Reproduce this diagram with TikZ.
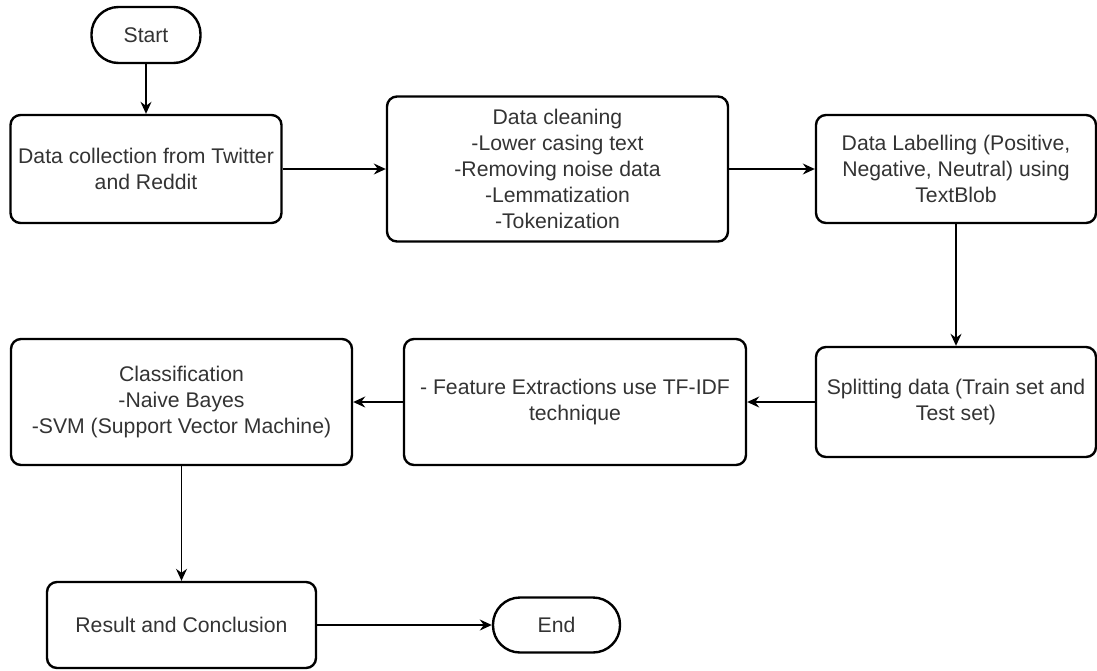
\documentclass[tikz,border=0pt]{standalone}
\usepackage{fontspec}
\setmainfont{Liberation Sans}
\usetikzlibrary{arrows.meta}
\begin{document}
\begin{tikzpicture}[x=1pt,y=-1pt,
  box/.style={draw, line width=2.4pt, rounded corners=10pt, align=center,
    font=\fontsize{21.2}{25.8}\selectfont, text=black!80, inner sep=0pt},
  term/.style={box, rounded corners=27pt},
  arr/.style={-{Stealth[length=12pt,width=11pt,inset=4pt]}, line width=1.3pt}]
\useasboundingbox (0,0) rectangle (1097,670);
\node[term, minimum width=109pt, minimum height=56pt] (start) at (146,35) {Start};
\node[box, minimum width=271pt, minimum height=108pt] (b1) at (146,169)
  {Data collection from Twitter\\and Reddit};
\node[box, minimum width=341pt, minimum height=145pt] (b2) at (557.5,169)
  {Data cleaning\\-Lower casing text\\-Removing noise data\\-Lemmatization\\-Tokenization};
\node[box, minimum width=280pt, minimum height=108pt] (b3) at (956,169)
  {Data Labelling (Positive,\\Negative, Neutral) using\\TextBlob};
\node[box, minimum width=280pt, minimum height=110pt] (b4) at (956,402)
  {Splitting data (Train set and\\Test set)};
\node[box, minimum width=342pt, minimum height=126pt] (b5) at (575,402)
  {- Feature Extractions use TF-IDF\\technique};
\node[box, minimum width=341pt, minimum height=126pt] (b6) at (181.5,402)
  {Classification\\-Naive Bayes\\-SVM (Support Vector Machine)};
\node[box, minimum width=269pt, minimum height=86pt] (res) at (181.5,625)
  {Result and Conclusion};
\node[term, minimum width=127pt, minimum height=55pt] (end) at (556.5,625) {End};
\draw[arr] (start) -- (b1);
\draw[arr] (b1) -- (b2);
\draw[arr] (b2) -- (b3);
\draw[arr] (b3) -- (b4);
\draw[arr] (b4) -- (b5);
\draw[arr] (b5) -- (b6);
\draw[arr] (b6) -- (res);
\draw[arr] (res) -- (end);
\end{tikzpicture}
\end{document}
